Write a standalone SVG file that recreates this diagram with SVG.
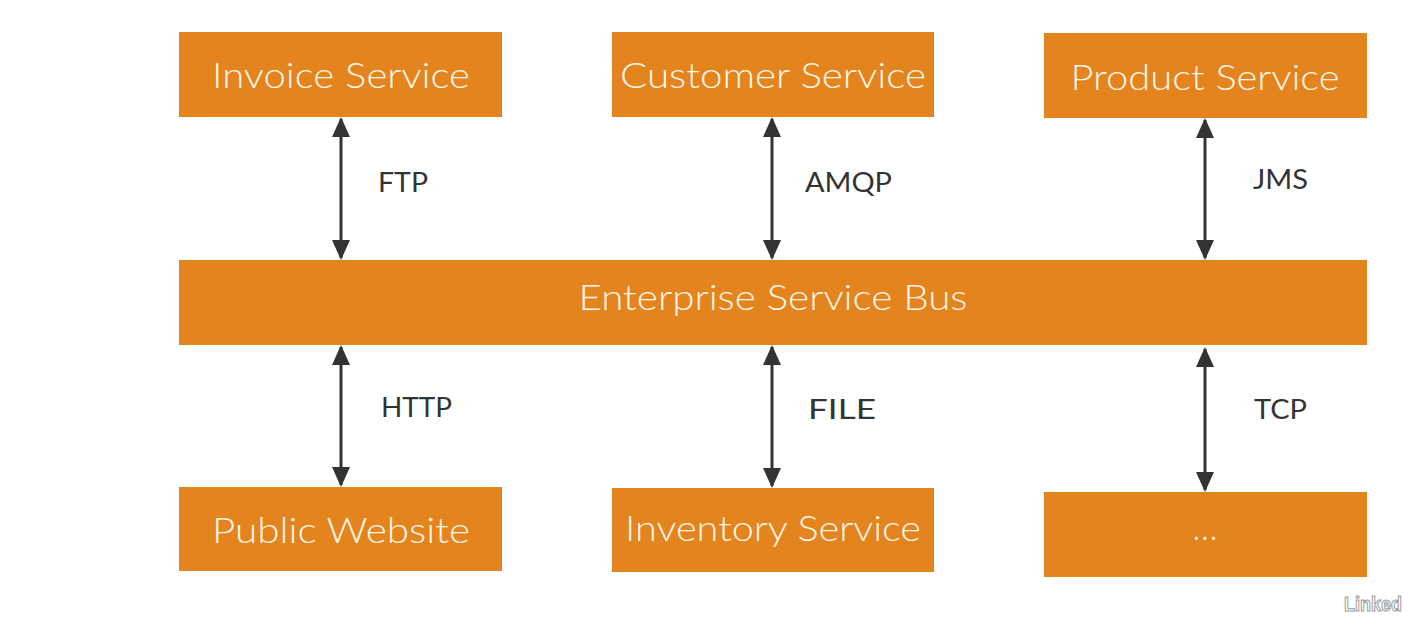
<svg xmlns="http://www.w3.org/2000/svg" width="1411" height="629" viewBox="0 0 1411 629">
<defs>
<style>
.box{fill:#E4841F;}
.bt{font-family:Lato,"Noto Sans",sans-serif;font-weight:300;font-size:35px;fill:#FFF6E6;text-anchor:middle;}
.lbl{font-family:Lato,"Noto Sans",sans-serif;font-weight:400;font-size:26px;fill:#333333;}
.con{stroke:#333333;stroke-width:3;fill:none;marker-start:url(#ah);marker-end:url(#ah);}
.wm{font-family:"Liberation Sans",Arial,sans-serif;font-weight:bold;font-size:21px;fill:#ffffff;stroke:#9a9a9a;stroke-width:1.1;}
</style>
<marker id="ah" viewBox="0 0 20 18" refX="18" refY="9" markerWidth="20" markerHeight="18" markerUnits="userSpaceOnUse" orient="auto-start-reverse">
<path d="M0,0 L20,9 L0,18 Z" fill="#333333"/>
</marker>
</defs>
<rect width="1411" height="629" fill="#ffffff"/>
<g id="connectors">
<line class="con" x1="341" y1="119" x2="341" y2="258"/>
<line class="con" x1="772" y1="119" x2="772" y2="258"/>
<line class="con" x1="1205" y1="120" x2="1205" y2="258"/>
<line class="con" x1="341" y1="347" x2="341" y2="485"/>
<line class="con" x1="772" y1="347" x2="772" y2="486"/>
<line class="con" x1="1205" y1="349" x2="1205" y2="490"/>
<text class="lbl" x="378" y="192" textLength="50" lengthAdjust="spacingAndGlyphs">FTP</text>
<text class="lbl" x="805" y="192" textLength="87" lengthAdjust="spacingAndGlyphs">AMQP</text>
<text class="lbl" x="1253" y="189" textLength="55" lengthAdjust="spacingAndGlyphs">JMS</text>
<text class="lbl" x="381" y="417" textLength="71" lengthAdjust="spacingAndGlyphs">HTTP</text>
<text class="lbl" x="808" y="419" textLength="68" lengthAdjust="spacingAndGlyphs">FILE</text>
<text class="lbl" x="1254" y="419" textLength="53" lengthAdjust="spacingAndGlyphs">TCP</text>
</g>
<g id="invoice"><rect class="box" x="179" y="32" width="323" height="85"/><text class="bt" x="341" y="88" textLength="258" lengthAdjust="spacingAndGlyphs">Invoice Service</text></g>
<g id="customer"><rect class="box" x="612" y="32" width="322" height="85"/><text class="bt" x="773" y="88" textLength="306" lengthAdjust="spacingAndGlyphs">Customer Service</text></g>
<g id="product"><rect class="box" x="1044" y="33" width="323" height="85"/><text class="bt" x="1205" y="90" textLength="269" lengthAdjust="spacingAndGlyphs">Product Service</text></g>
<g id="esb"><rect class="box" x="179" y="260" width="1188" height="85"/><text class="bt" x="773" y="310" textLength="389" lengthAdjust="spacingAndGlyphs">Enterprise Service Bus</text></g>
<g id="public"><rect class="box" x="179" y="487" width="323" height="84"/><text class="bt" x="341" y="543" textLength="258" lengthAdjust="spacingAndGlyphs">Public Website</text></g>
<g id="inventory"><rect class="box" x="612" y="488" width="322" height="84"/><text class="bt" x="773" y="541" textLength="296" lengthAdjust="spacingAndGlyphs">Inventory Service</text></g>
<g id="more"><rect class="box" x="1044" y="492" width="323" height="85"/><text class="bt" x="1205" y="540">…</text></g>
<text class="wm" x="1344" y="611" textLength="58" lengthAdjust="spacingAndGlyphs">Linked</text>
</svg>
